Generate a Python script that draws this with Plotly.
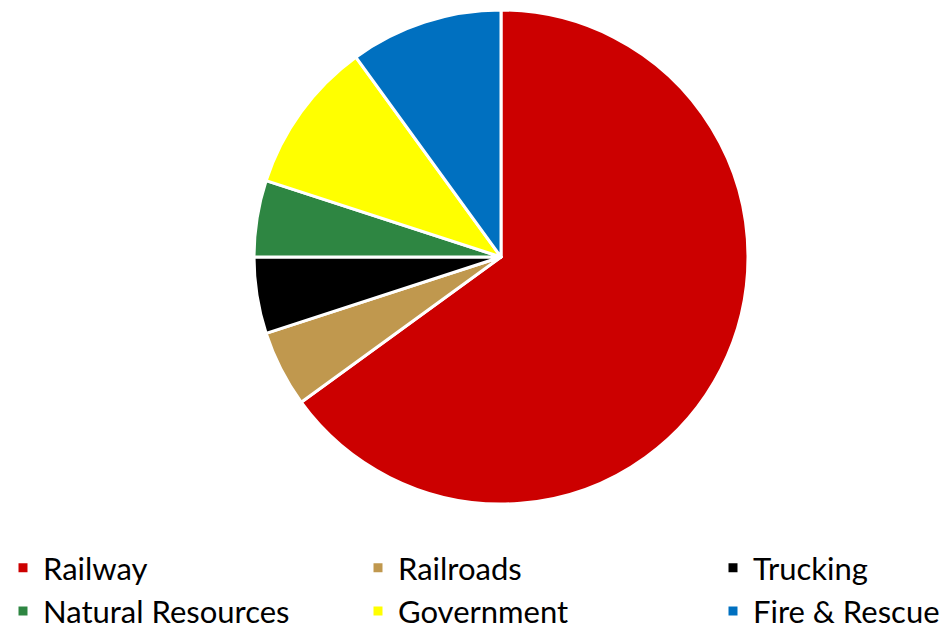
import plotly.graph_objects as go

categories = ["Railway", "Railroads", "Trucking", "Natural Resources", "Government", "Fire & Rescue"]
values = [65, 5, 5, 5, 10, 10]
colors = ["#CC0000", "#C0984E", "#000000", "#2E8642", "#FFFF00", "#0070C0"]

# The page body has an 8px margin, so the figure is drawn offset by 8px.
OFF = 8
FIG_W, FIG_H = 1200, 700
cx, cy, r = 501 - OFF, 257 - OFF, 247
LEG_TOP = 533

fig = go.Figure(go.Pie(
    labels=categories,
    values=values,
    sort=False,
    direction="clockwise",
    rotation=0,
    marker=dict(colors=colors, line=dict(color="white", width=3)),
    textinfo="none",
    hoverinfo="label+percent",
    domain=dict(x=[(cx - r) / FIG_W, (cx + r) / FIG_W],
                y=[(FIG_H - cy - r) / FIG_H, (FIG_H - cy + r) / FIG_H]),
))

fig.update_layout(
    width=FIG_W, height=FIG_H,
    margin=dict(l=0, r=0, t=0, b=0),
    paper_bgcolor="white",
    plot_bgcolor="white",
    font=dict(family="Lato, sans-serif", color="#000000"),
    legend=dict(
        orientation="h",
        x=0, xanchor="left",
        y=(FIG_H - LEG_TOP) / FIG_H, yanchor="top",
        font=dict(size=31, family="Lato, sans-serif", color="#000000"),
        entrywidth=315,
        entrywidthmode="pixels",
        indentation=-5,
        bgcolor="rgba(0,0,0,0)",
        traceorder="normal",
    ),
)

fig.write_html("out.html")
